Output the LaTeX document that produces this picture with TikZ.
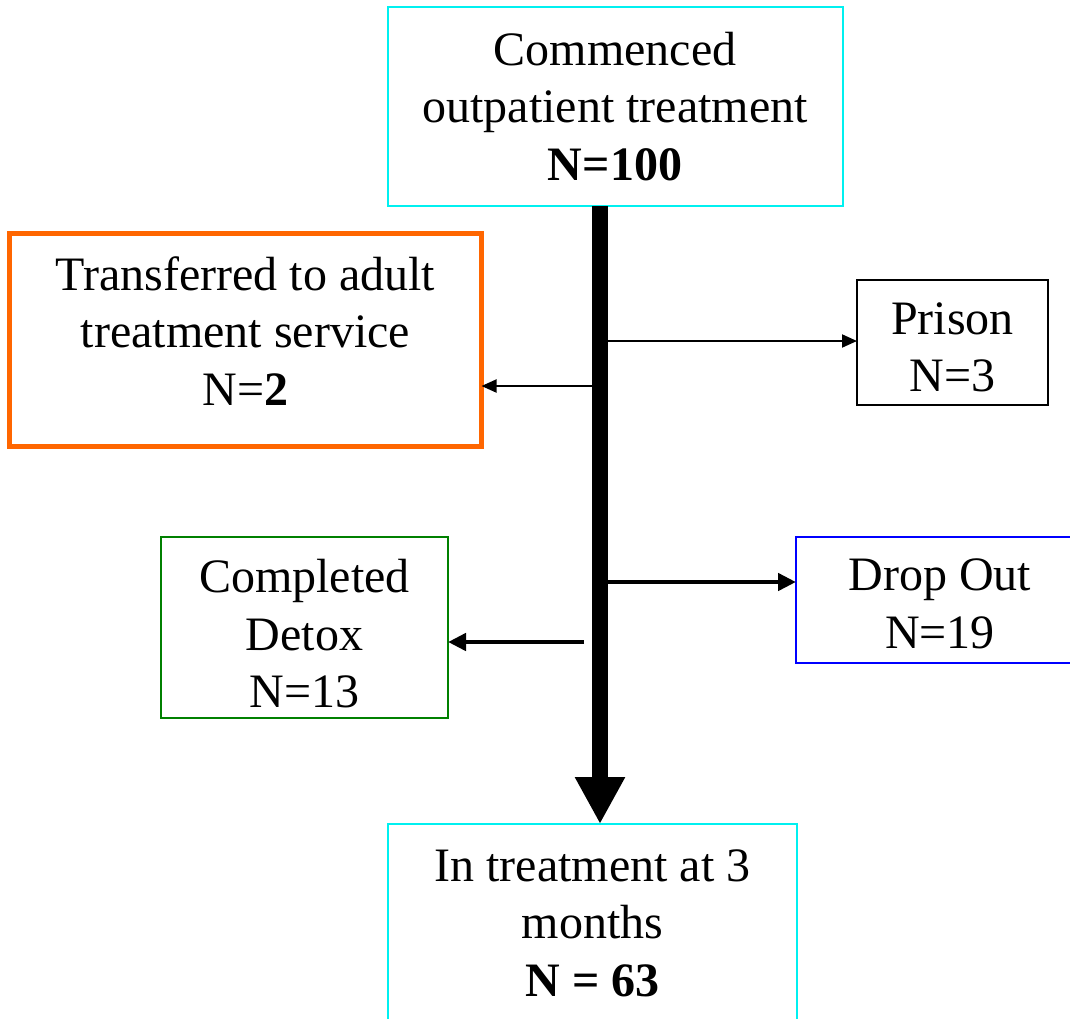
\documentclass[tikz,border=0pt]{standalone}
\usepackage{fontspec}
\setmainfont{Liberation Serif}
\usetikzlibrary{arrows.meta}
\definecolor{cyanbox}{RGB}{0,240,240}
\definecolor{orangebox}{RGB}{255,102,0}
\definecolor{greenbox}{RGB}{0,128,0}
\definecolor{bluebox}{RGB}{0,0,255}
\tikzset{
  box/.style={rectangle, draw, inner sep=0pt, outer sep=0pt},
  boxtext/.style={align=center, inner sep=0pt, outer sep=0pt,
    font=\fontsize{48}{57.5}\selectfont},
  thin arrow/.style={line width=2pt, -{Triangle[length=15pt,width=13pt]}},
  mid arrow/.style={line width=4.5pt, -{Triangle[length=18pt,width=17pt]}},
  main arrow/.style={line width=16pt, -{Triangle[length=47pt,width=47pt]}}
}
\begin{document}
\begin{tikzpicture}[x=1pt,y=-1pt]
\useasboundingbox (0,0) rectangle (1070,1018);
\clip (0,0) rectangle (1070,1018);
\node[box, draw=cyanbox, line width=2pt, minimum width=455pt, minimum height=199pt,
  label={[boxtext]center:{Commenced\\outpatient treatment\\\textbf{N=100}}}] (top) at (615,106.5) {};
\node[box, draw=orangebox, line width=5pt, minimum width=472pt, minimum height=213pt,
  label={[boxtext, yshift=9pt]center:{Transferred to adult\\treatment service\\N=\textbf{2}}}] (orange) at (245.5,340) {};
\node[box, draw=black, line width=2pt, minimum width=191pt, minimum height=125pt,
  label={[boxtext, yshift=-5pt]center:{Prison\\N=3}}] (prison) at (952.5,342.5) {};
\node[box, draw=greenbox, line width=2pt, minimum width=287pt, minimum height=181pt,
  label={[boxtext, yshift=-6.5pt]center:{Completed\\Detox\\N=13}}] (detox) at (304.5,627.5) {};
\node[box, draw=bluebox, line width=2.5pt, minimum width=288pt, minimum height=126pt,
  label={[boxtext, yshift=-4pt]center:{Drop Out\\N=19}}] (drop) at (940,600) {};
\node[box, draw=cyanbox, line width=2pt, minimum width=409pt, minimum height=198pt,
  label={[boxtext]center:{In treatment at 3\\months\\\textbf{N = 63}}}] (bottom) at (592.5,923) {};
\coordinate (shaft) at (600,0);
\coordinate (p1) at (608,341);
\coordinate (o1) at (592,386);
\coordinate (d1) at (608,582);
\coordinate (c1) at (584,642);
\draw[main arrow] (top.south -| shaft) -- (bottom.north -| shaft);
\draw[thin arrow] (p1) -- (p1 -| prison.west);
\draw[thin arrow] (o1) -- (o1 -| orange.east);
\draw[mid arrow] (d1) -- (d1 -| drop.west);
\draw[mid arrow] (c1) -- (c1 -| detox.east);
\end{tikzpicture}
\end{document}
